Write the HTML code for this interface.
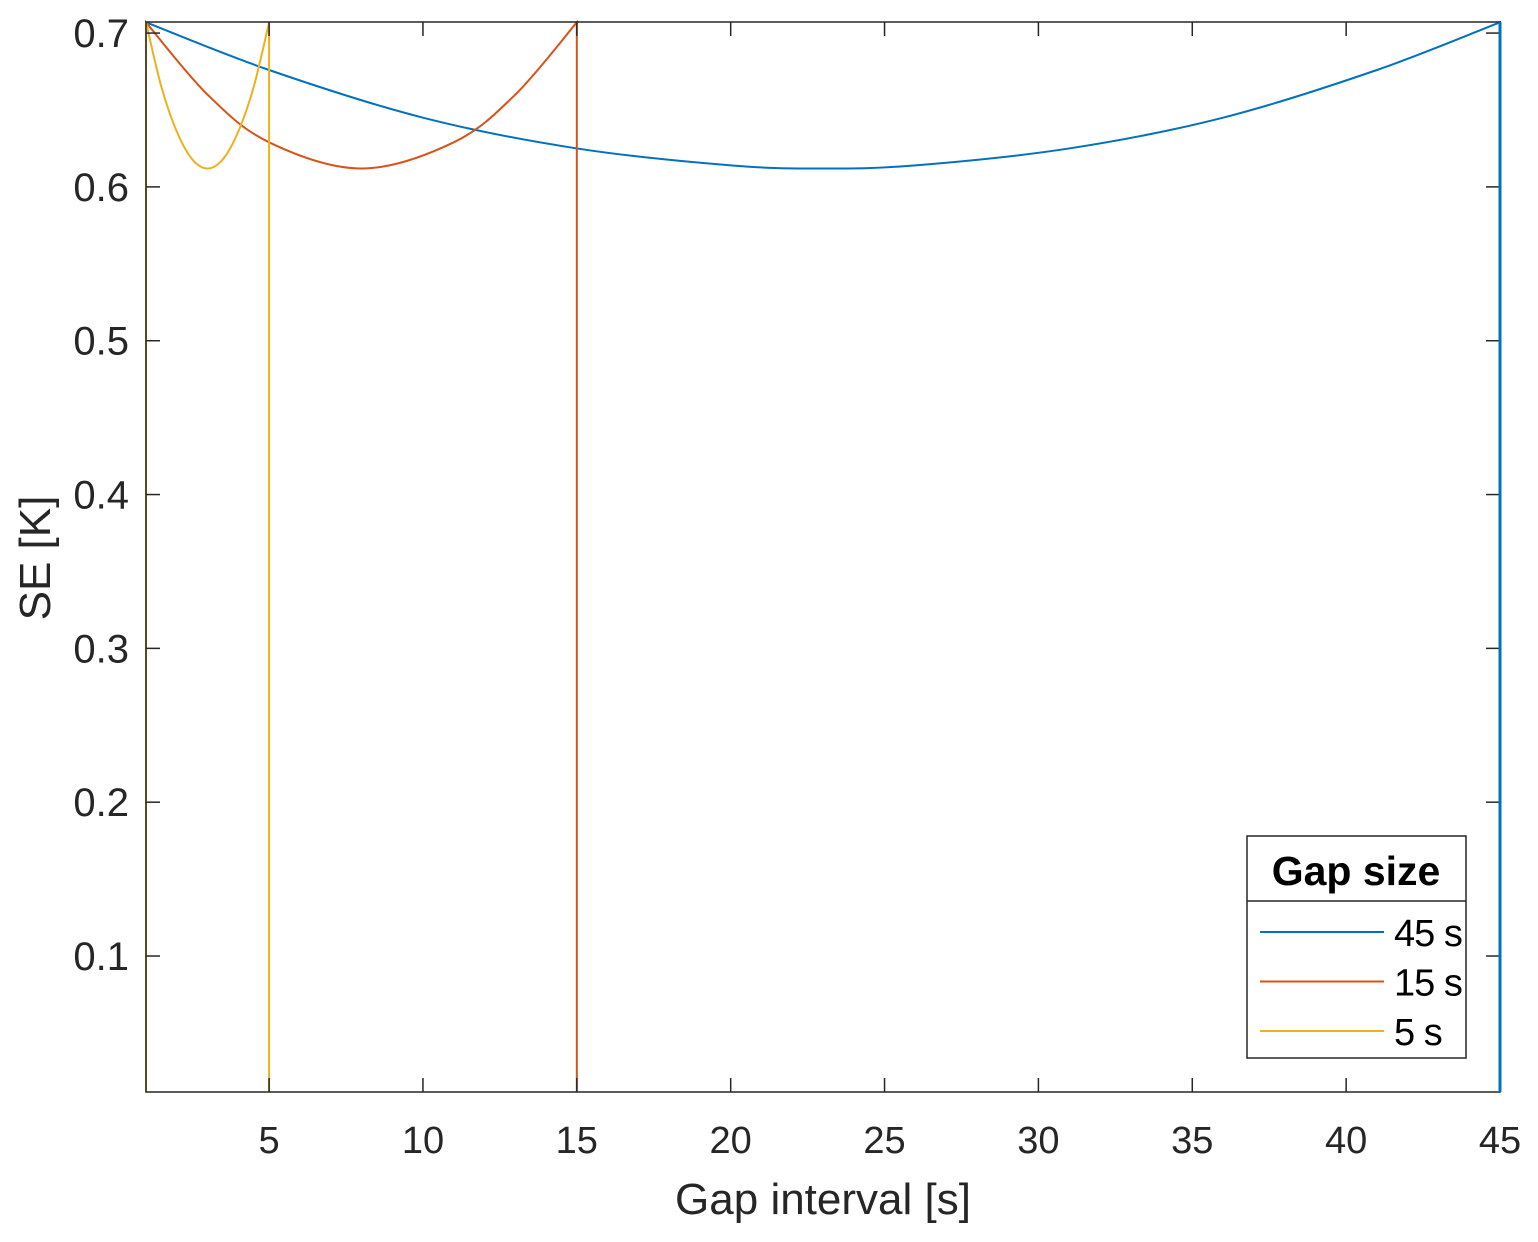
<!DOCTYPE html>
<html><head><meta charset="utf-8">
<style>
html,body{margin:0;padding:0;background:#fff;}
svg{display:block;font-family:"Liberation Sans",Arial,sans-serif;}
</style></head>
<body>
<svg id="chart" width="1538" height="1242" viewBox="0 0 1538 1242">
<rect x="0" y="0" width="1538" height="1242" fill="#fff"/>
<g id="plot"></g>
</svg>
<script>
const xTicks = [5,10,15,20,25,30,35,40,45];
const yTicks = [0.1,0.2,0.3,0.4,0.5,0.6,0.7];
const seriesNames = ["45 s","15 s","5 s"];
const gapSizes = [45,15,5];
const blueX = [1,5,10,15,20,23,26,31,36,41,45];
const blueY = [0.707,0.676,0.645,0.625,0.614,0.612,0.614,0.625,0.645,0.676,0.707];
const orangeX = [1,3,5,8,11,13,15];
const orangeY = [0.707,0.660,0.629,0.612,0.629,0.660,0.707];
const yellowX = [1,1.5,2,2.5,3,3.5,4,4.5,5];
const yellowY = [0.707,0.665,0.636,0.618,0.612,0.618,0.636,0.665,0.707];

const X0=146,X1=1500,Y0=1092,Y1=22;
const xmin=1,xmax=45,ymin=0.0116,ymax=0.7072;
const sx=v=>X0+(v-xmin)/(xmax-xmin)*(X1-X0);
const sy=v=>Y0-(v-ymin)/(ymax-ymin)*(Y0-Y1);
const NS="http://www.w3.org/2000/svg";
const svg=document.getElementById('chart');
const plot=document.getElementById('plot');
function mk(tag,attrs,parent){const e=document.createElementNS(NS,tag);for(const k in attrs)e.setAttribute(k,attrs[k]);(parent||svg).appendChild(e);return e;}

xTicks.forEach(t=>{
  const x=sx(t);
  const a=mk('line',{x1:x,x2:x,y1:Y0,y2:Y0-14,stroke:'#262626','stroke-width':1.5});
  
  
  const b=mk('line',{x1:x,x2:x,y1:Y1,y2:Y1+14,stroke:'#262626','stroke-width':1.5});
  
  
  const tx=mk('text',{x:x,y:1153,'text-anchor':'middle','font-size':38,fill:'#262626'});
  tx.textContent=t;
  
  
});
yTicks.forEach(t=>{
  const y=sy(t);
  const a=mk('line',{x1:X0,x2:X0+14,y1:y,y2:y,stroke:'#262626','stroke-width':1.5});
  
  
  const b=mk('line',{x1:X1,x2:X1-14,y1:y,y2:y,stroke:'#262626','stroke-width':1.5});
  
  
  const tx=mk('text',{x:129,y:y+14,'text-anchor':'end','font-size':40,fill:'#262626'});
  tx.textContent=t.toFixed(1);
  
  
});

function smooth(xs,ys){
  const p=xs.map((x,i)=>[sx(x),sy(ys[i])]);
  let d=`M${sx(xs[0])},${sy(ymin)} L${p[0][0]},${p[0][1]}`;
  for(let i=0;i<p.length-1;i++){
    const p0=p[i-1]||p[i],p1=p[i],p2=p[i+1],p3=p[i+2]||p[i+1];
    const c1=[p1[0]+(p2[0]-p0[0])/6,p1[1]+(p2[1]-p0[1])/6];
    const c2=[p2[0]-(p3[0]-p1[0])/6,p2[1]-(p3[1]-p1[1])/6];
    d+=` C${c1[0]},${c1[1]} ${c2[0]},${c2[1]} ${p2[0]},${p2[1]}`;
  }
  d+=` L${sx(xs[xs.length-1])},${sy(ymin)}`;
  return d;
}
const colors=['#0072BD','#D95319','#EDB120'];
const data=[[blueX,blueY],[orangeX,orangeY],[yellowX,yellowY]];
const snames=['series-45s','series-15s','series-5s'];
data.forEach((s,i)=>{
  const path=mk('path',{d:smooth(s[0],s[1]),fill:'none',stroke:colors[i],'stroke-width':2},plot);
  
  
});

const box=mk('rect',{x:X0,y:Y1,width:X1-X0,height:Y0-Y1,fill:'none',stroke:'#262626','stroke-width':1.5});


const be=mk('line',{x1:X1,x2:X1,y1:Y1,y2:Y0,stroke:'#0072BD','stroke-width':3});



const xt=mk('text',{x:823,y:1214,'text-anchor':'middle','font-size':44,fill:'#262626'});
xt.textContent='Gap interval [s]';


const yt=mk('text',{x:0,y:0,'text-anchor':'middle','font-size':44,fill:'#262626',transform:'translate(50,558) rotate(-90)'});
yt.textContent='SE [K]';



const lg=mk('g',{});


const lr=mk('rect',{x:1247,y:836,width:219,height:222,fill:'#fff',stroke:'#262626','stroke-width':1.5},lg);


const ld=mk('line',{x1:1247,x2:1466,y1:901,y2:901,stroke:'#262626','stroke-width':1.5},lg);


const lt=mk('text',{x:1356,y:885,'text-anchor':'middle','font-size':41,'font-weight':'bold',fill:'#000'},lg);
lt.textContent='Gap size';


seriesNames.forEach((n,i)=>{
  const y=932+i*49.5;
  const l=mk('line',{x1:1260,x2:1384,y1:y,y2:y,stroke:colors[i],'stroke-width':2},lg);
  
  
  const t=mk('text',{x:1394,y:y+14,'font-size':38,fill:'#000','letter-spacing':'-1'},lg);
  t.textContent=n;
  
  
});
</script>
</body></html>
